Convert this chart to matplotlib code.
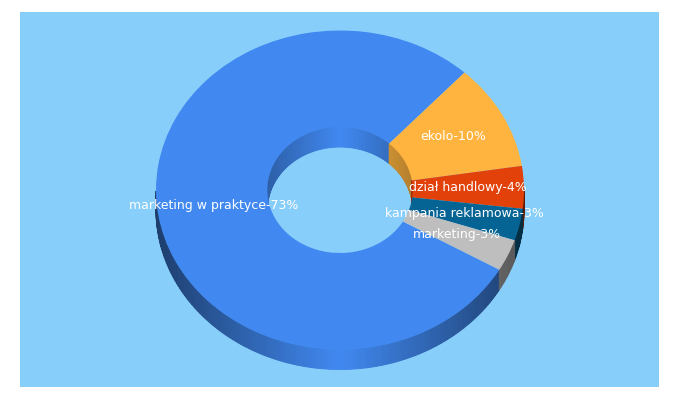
#!/usr/bin/env python3
# -*- coding: utf-8 -*-
"""Donut chart with a fake 3D wall"""

import numpy as np
import matplotlib
matplotlib.use('Agg')
import matplotlib.pyplot as plt
from matplotlib.collections import PolyCollection
from matplotlib.colors import to_rgb
from matplotlib.patches import Rectangle

labels = ['marketing w praktyce', 'ekolo', 'dział handlowy', 'kampania reklamowa', 'marketing']
values = [73, 10, 4, 3, 3]
colors = ['#4189F1', '#FFB43F', '#E2410A', '#066494', '#BEBEBE']

BG = '#87CEFA'
START = -30.0
HOLE = 0.395
DEPTH = 0.125  # wall height, in units of the vertical radius
CX, CY = 340.0, 190.0
RX, RY = 184.0, 159.5


def wall(ax, th0, th1, radius, color, side, strength):
    """Shaded wall of one slice, only the part facing the viewer"""
    thetas = np.radians(np.arange(th0, th1, 1.0).tolist() + [th1])
    polys, cols = [], []
    base = np.array(to_rgb(color))
    for a, b in zip(thetas[:-1], thetas[1:]):
        mid = (a + b) / 2
        if np.sin(mid) * side < 0:
            continue
        xa, xb = radius * np.cos(a), radius * np.cos(b)
        ya, yb = radius * np.sin(a), radius * np.sin(b)
        polys.append([(xa, ya), (xb, yb), (xb, yb - DEPTH), (xa, ya - DEPTH)])
        cols.append(base * (1 - strength * abs(np.cos(mid))))
    if polys:
        ax.add_collection(PolyCollection(polys, facecolors=cols, edgecolors=cols,
                                         linewidths=0.7, zorder=0.5))


fig = plt.figure(figsize=(6.8, 4.0), dpi=100, facecolor='white')
fig.add_artist(Rectangle((20 / 680, 13 / 400), 639 / 680, 375 / 400,
                         transform=fig.transFigure, color=BG, lw=0, zorder=-1))
ax = fig.add_axes([0, 0, 1, 1])
ax.patch.set_alpha(0)

# angles of each slice, clockwise from START
edges = START - np.cumsum([0] + values) * 360.0 / sum(values)
for i, col in enumerate(colors):
    lo, hi = edges[i + 1], edges[i]
    wall(ax, lo, hi, 1.0, col, -1, 0.55)
    wall(ax, lo, hi, HOLE, col, 1, 0.3)

wedges, texts = ax.pie(values, colors=colors, labels=labels, startangle=START,
                       counterclock=False, radius=1.0, labeldistance=0.695,
                       wedgeprops={'width': 1 - HOLE, 'linewidth': 0})

for t, lab, v in zip(texts, labels, values):
    t.set_text(f'{lab}-{v}%')
    t.set_ha('center')
    t.set_va('center')
    t.set_color('white')
    t.set_fontsize(9)
    t.set_family('DejaVu Sans')
    t.set_y(t.get_position()[1] + 1 / RY)

ax.set_aspect('auto')
ax.set_xlim(-CX / RX, (680 - CX) / RX)
ax.set_ylim(-(400 - CY) / RY, CY / RY)
ax.axis('off')

fig.savefig('out.png', dpi=100, facecolor='white')
